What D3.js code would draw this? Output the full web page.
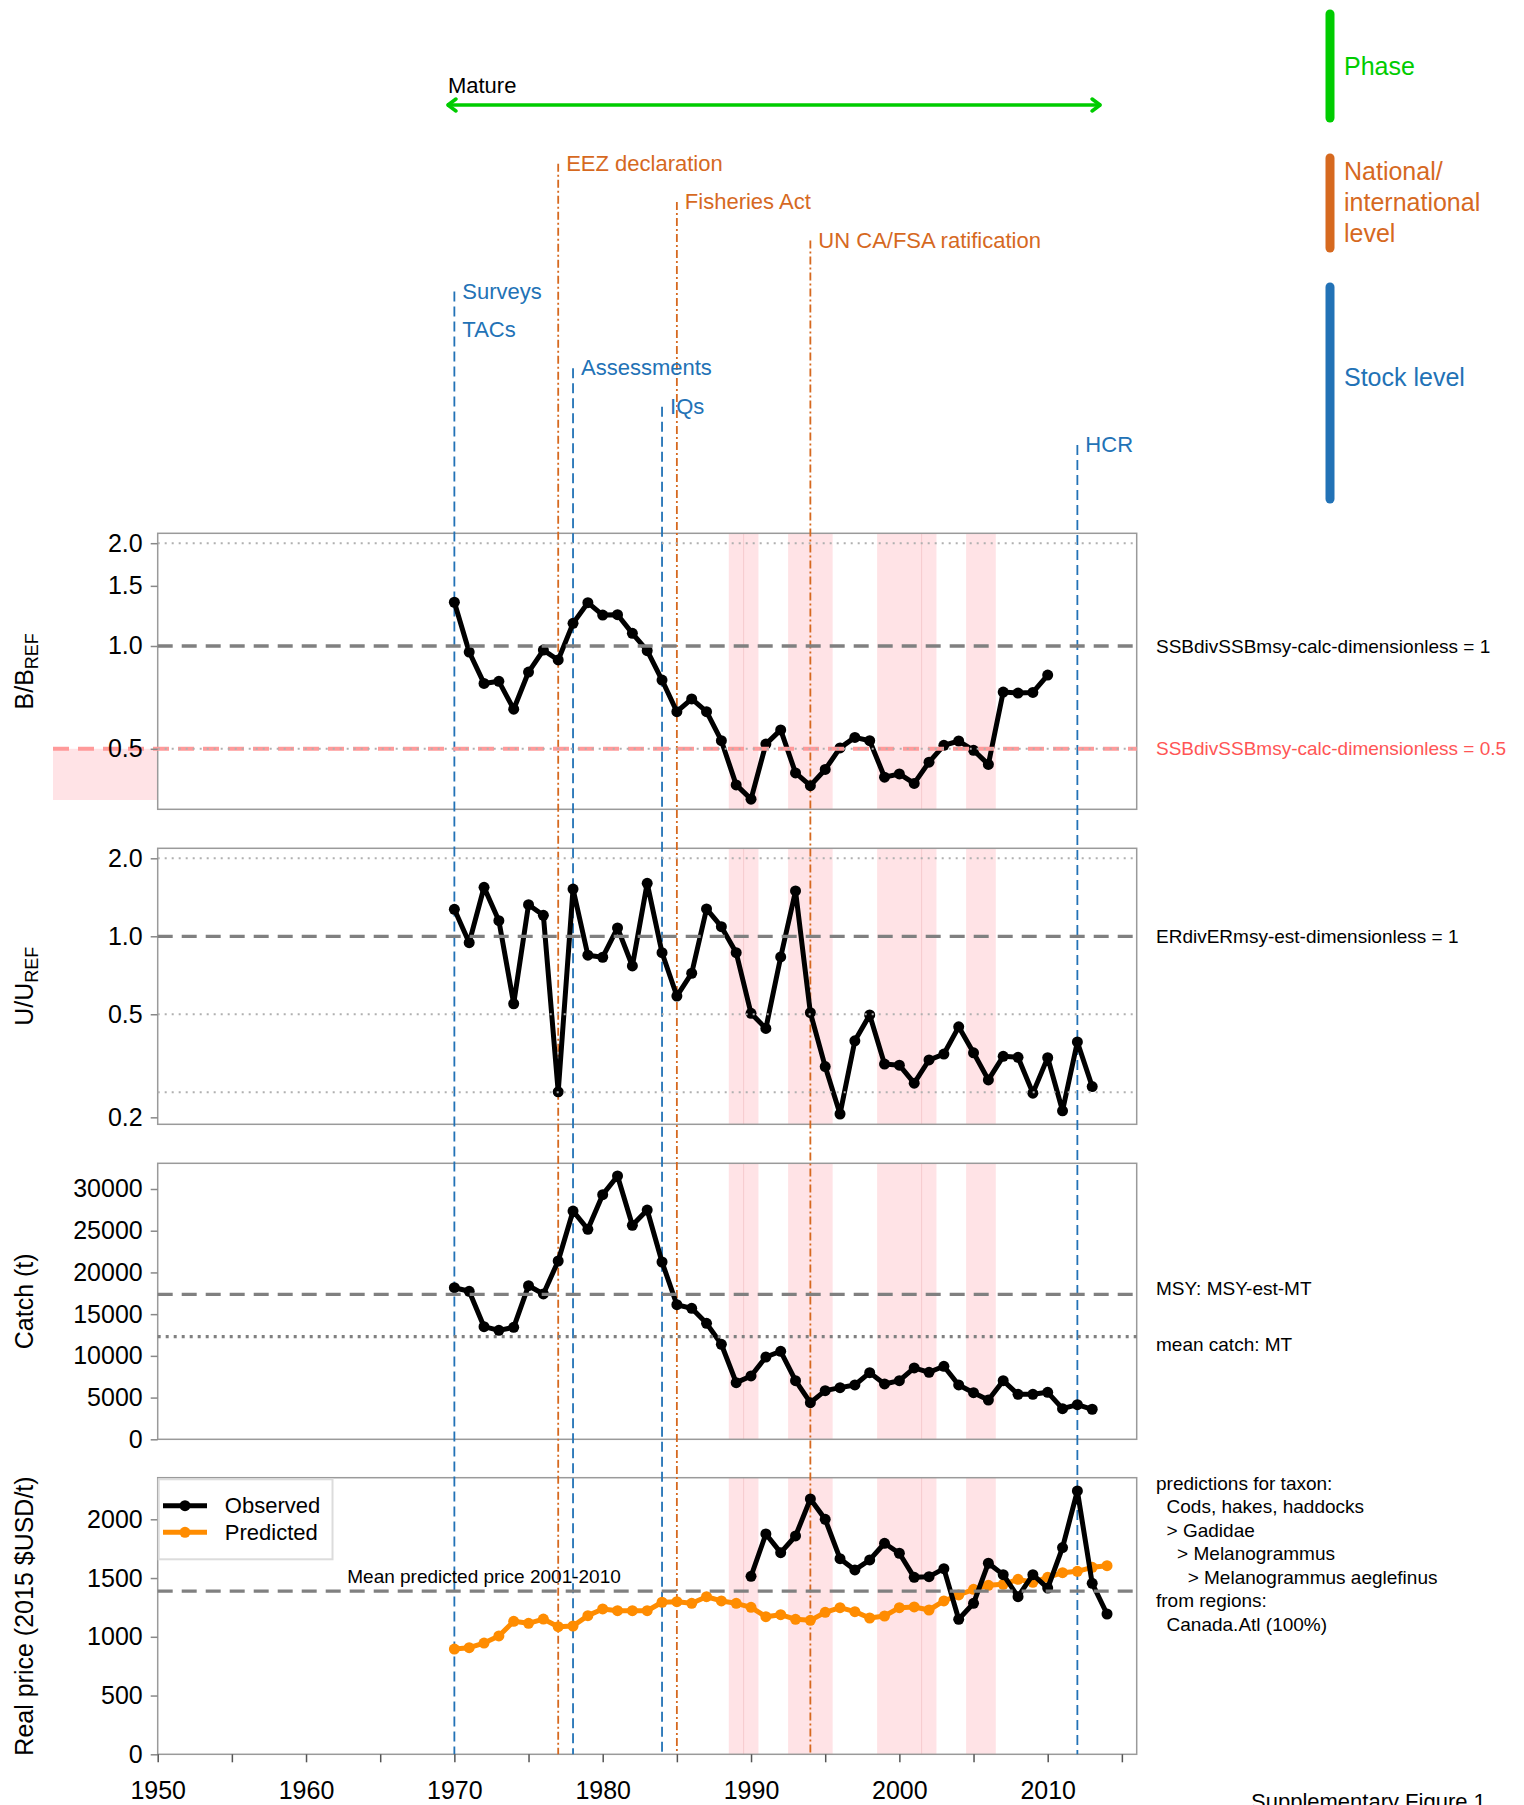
<!DOCTYPE html>
<html><head><meta charset="utf-8">
<script src="https://cdn.jsdelivr.net/npm/d3@7"></script>
<style>
body{margin:0;background:#fff}
svg{display:block;font-family:"Liberation Sans",Arial,Helvetica,sans-serif}
</style>
</head><body>
<svg id="c" width="1524" height="1805"></svg>
<script>
// ---------------- DATA ----------------
const bYears = d3.range(1970, 2011);
const bRatio = [1.343,0.960,0.777,0.788,0.653,0.839,0.973,0.910,1.165,1.339,1.232,1.235,1.089,0.969,0.795,0.642,0.700,0.642,0.528,0.392,0.356,
                0.516,0.568,0.425,0.390,0.435,0.503,0.540,0.528,0.413,0.422,0.396,0.457,0.512,0.527,0.495,0.450,0.733,0.728,0.731,0.822];
const uYears = d3.range(1970, 2014);
const uRatio = [1.271,0.945,1.546,1.149,0.549,1.324,1.205,0.251,1.522,0.845,0.830,1.077,0.768,1.602,0.864,0.588,0.720,1.275,1.089,0.864,0.504,
                0.441,0.832,1.496,0.507,0.314,0.206,0.395,0.497,0.321,0.318,0.271,0.333,0.351,0.447,0.355,0.279,0.344,0.341,0.248,0.340,0.212,0.391,0.263];
const catchYears = d3.range(1970, 2014);
const catchT = [18170,17740,13500,13060,13420,18410,17420,21370,27360,25170,29320,31560,25650,27480,21250,16130,15700,13900,11390,6790,7590,
                9860,10550,7030,4390,5830,6190,6510,7990,6630,7030,8550,8030,8750,6510,5590,4710,7030,5390,5390,5630,3670,4150,3600];
const predYears = d3.range(1970, 2015);
const pricePredicted = [896,907,947,1007,1132,1115,1151,1086,1092,1180,1237,1222,1222,1222,1294,1299,1285,1341,1305,1285,1251,
                        1171,1188,1149,1140,1208,1248,1214,1160,1177,1248,1254,1228,1305,1356,1404,1438,1447,1489,1464,1506,1546,1557,1591,1605];
const obsYears = d3.range(1990, 2015);
const priceObserved = [1515,1875,1716,1858,2173,2000,1665,1569,1654,1796,1711,1506,1512,1580,1149,1285,1626,1529,1341,1529,1415,1759,2241,1455,1194];

const shadedSpans = [[1988.5,1989.5],[1989.5,1990.5],[1992.5,1995.5],[1998.5,2001.5],[2001.5,2002.5],[2004.5,2006.5]];
const stockEvents = [{year:1970,label:"Surveys"},{year:1970,label:"TACs"},{year:1978,label:"Assessments"},{year:1984,label:"IQs"},{year:2012,label:"HCR"}];
const nationalEvents = [{year:1977,label:"EEZ declaration"},{year:1985,label:"Fisheries Act"},{year:1994,label:"UN CA/FSA ratification"}];
const phase = {label:"Mature", start:1969.5, end:2013.6};

const bTicks = [0.5,1.0,1.5,2.0];
const uTicks = [0.2,0.5,1.0,2.0];
const catchTicks = [0,5000,10000,15000,20000,25000,30000];
const priceTicks = [0,500,1000,1500,2000];
const yearTicks = d3.range(1950, 2016, 5);
const yearLabels = [1950,1960,1970,1980,1990,2000,2010];

const bRefTarget = 1, bRefLimit = 0.5;
const uRef = 1;
const msyCatch = 17380, meanCatch = 12300;
const meanPredPrice = d3.mean(pricePredicted.filter((v,i)=>predYears[i]>=2001 && predYears[i]<=2010));

const taxonLines = ["predictions for taxon:","  Cods, hakes, haddocks","  > Gadidae","    > Melanogrammus","      > Melanogrammus aeglefinus","from regions:","  Canada.Atl (100%)"];

// ---------------- LAYOUT ----------------
const svg = d3.select("#c");
const X0 = 157.7, X1 = 1136.7;
const x = d3.scaleLinear().domain([1950,2016]).range([X0,X1]);
const P = [{top:533.3,bot:809.3},{top:848.3,bot:1124.3},{top:1163.3,bot:1439.3},{top:1477.7,bot:1754.3}];
const yB = d3.scaleLog().domain([0.3325,2.138]).range([P[0].bot,P[0].top]);
const yU = d3.scaleLog().domain([0.188,2.186]).range([P[1].bot,P[1].top]);
const yC = d3.scaleLinear().domain([0,33080]).range([P[2].bot,P[2].top]);
const yP = d3.scaleLinear().domain([0,2354]).range([P[3].bot,P[3].top]);

const BLUE="#2272b6", ORANGE="#d6691f", GREEN="#00cc00", PINK="#ffe3e6";
const GRAYD="#808080", GRAYL="#b0b0b0";

// shading
P.forEach(p=>{
  const g = svg.append("g");
  g.selectAll("rect").data(shadedSpans).join("rect")
    .attr("x",d=>x(d[0])).attr("width",d=>x(d[1])-x(d[0]))
    .attr("y",p.top).attr("height",p.bot-p.top).attr("fill",PINK);
  const shared = shadedSpans.filter(a=>shadedSpans.some(b=>b[0]===a[1])).map(a=>a[1]);
  g.selectAll("line").data(shared).join("line")
    .attr("x1",d=>x(d)).attr("x2",d=>x(d)).attr("y1",p.top).attr("y2",p.bot)
    .attr("stroke","#f6c9cd").attr("stroke-width",1);
});

// pink swatch left of panel 1
svg.append("rect").attr("x",53).attr("width",X0-53)
  .attr("y",yB(bRefLimit)).attr("height",800-yB(bRefLimit)).attr("fill",PINK);

// boxes
P.forEach(p=>{
  svg.append("rect").attr("x",X0).attr("y",p.top).attr("width",X1-X0).attr("height",p.bot-p.top)
    .attr("fill","none").attr("stroke","#9a9a9a").attr("stroke-width",1.5);
});

// event lines
const rowGap = 38.4;
const natBase = 170.7, stockBase = 298.5;
const evFont = 22;
const stockFirstRow = {};
stockEvents.forEach((e,i)=>{ if(!(e.year in stockFirstRow)) stockFirstRow[e.year]=i; });
Object.keys(stockFirstRow).forEach(yr=>{
  const top = stockBase + stockFirstRow[yr]*rowGap - 7;
  svg.append("line").attr("x1",x(+yr)).attr("x2",x(+yr)).attr("y1",top).attr("y2",P[3].bot)
    .attr("stroke",BLUE).attr("stroke-width",1.8).attr("stroke-dasharray","10,5");
});
nationalEvents.forEach((e,i)=>{
  const top = natBase + i*rowGap - 7;
  svg.append("line").attr("x1",x(e.year)).attr("x2",x(e.year)).attr("y1",top).attr("y2",P[3].bot)
    .attr("stroke",ORANGE).attr("stroke-width",1.8).attr("stroke-dasharray","8,3,2,3");
});
svg.selectAll("text.stock").data(stockEvents).join("text").attr("class","stock")
  .attr("x",d=>x(d.year)+8).attr("y",(d,i)=>stockBase+i*rowGap)
  .attr("fill",BLUE).attr("font-size",evFont).text(d=>d.label);
svg.selectAll("text.nat").data(nationalEvents).join("text").attr("class","nat")
  .attr("x",d=>x(d.year)+8).attr("y",(d,i)=>natBase+i*rowGap)
  .attr("fill",ORANGE).attr("font-size",evFont).text(d=>d.label);

// phase arrow
const ay = 105;
const ax0 = x(phase.start), ax1 = x(phase.end);
svg.append("line").attr("x1",ax0).attr("x2",ax1).attr("y1",ay).attr("y2",ay)
  .attr("stroke",GREEN).attr("stroke-width",3.5);
svg.append("path").attr("d",`M${ax0+9},${ay-6}L${ax0+1},${ay}L${ax0+9},${ay+6}M${ax1-9},${ay-6}L${ax1-1},${ay}L${ax1-9},${ay+6}`)
  .attr("fill","none").attr("stroke",GREEN).attr("stroke-width",3.5).attr("stroke-linecap","round").attr("stroke-linejoin","round");
svg.append("text").attr("x",ax0+1).attr("y",93).attr("font-size",evFont).attr("fill","#000").text(phase.label);

// right legend
const legItems = [
  {c:GREEN, y0:14, y1:118, lines:["Phase"], ty:75},
  {c:ORANGE, y0:158, y1:248, lines:["National/","international","level"], ty:180},
  {c:BLUE, y0:287, y1:499, lines:["Stock level"], ty:386}
];
legItems.forEach(L=>{
  svg.append("line").attr("x1",1330).attr("x2",1330).attr("y1",L.y0).attr("y2",L.y1)
    .attr("stroke",L.c).attr("stroke-width",9).attr("stroke-linecap","round");
  L.lines.forEach((t,i)=>svg.append("text").attr("x",1344).attr("y",L.ty+i*31)
    .attr("font-size",25).attr("fill",L.c).text(t));
});

// helper for lines
function hline(y, xa, xb, stroke, w, dash){
  svg.append("line").attr("x1",xa).attr("x2",xb).attr("y1",y).attr("y2",y)
    .attr("stroke",stroke).attr("stroke-width",w).attr("stroke-dasharray",dash);
}
function series(xs, vs, yS, color, r, w){
  const g = svg.append("g");
  const pts = xs.map((d,i)=>[x(d), yS(vs[i])]);
  g.append("path").attr("d",d3.line()(pts)).attr("fill","none").attr("stroke",color)
    .attr("stroke-width",w).attr("stroke-linejoin","round");
  g.selectAll("circle").data(pts).join("circle").attr("cx",d=>d[0]).attr("cy",d=>d[1]).attr("r",r).attr("fill",color);
}

// data
series(bYears,bRatio,yB,"#000",5.5,5);
series(uYears,uRatio,yU,"#000",5.5,5);
series(catchYears,catchT,yC,"#000",5.5,5);
series(predYears,pricePredicted,yP,"#ff8c00",5.5,5);
series(obsYears,priceObserved,yP,"#000",5.5,5);

// reference lines
hline(yB(2.0),X0,X1,GRAYL,2,"2,5");
hline(yB(bRefTarget),X0,X1,GRAYD,3.3,"15,9");
hline(yB(bRefLimit),53,X1,"#ff9a9a",4,"16,9");
hline(yB(bRefLimit),X0,X1,GRAYL,2,"2,5");
hline(yU(2.0),X0,X1,GRAYL,2,"2,5");
hline(yU(0.5),X0,X1,GRAYL,2,"2,5");
hline(yU(0.25),X0,X1,GRAYL,2,"2,5");
hline(yU(uRef),X0,X1,GRAYD,3.3,"15,9");
hline(yC(msyCatch),X0,X1,GRAYD,3.3,"15,9");
hline(yC(meanCatch),X0,X1,GRAYD,3.3,"3,5");
hline(yP(meanPredPrice),X0,X1,GRAYD,3.3,"15,9");

// axes
function yAxis(scale, ticks, fmt){
  const g = svg.append("g").attr("transform",`translate(${X0},0)`)
    .call(d3.axisLeft(scale).tickValues(ticks).tickFormat(fmt).tickSize(7).tickPadding(8));
  g.select(".domain").remove();
  g.selectAll(".tick line").attr("stroke","#888").attr("stroke-width",1.5);
  g.selectAll(".tick text").attr("font-size",25).attr("fill","#000");
  g.attr("font-family",null);
}
yAxis(yB,bTicks,d3.format(".1f"));
yAxis(yU,uTicks,d3.format(".1f"));
yAxis(yC,catchTicks,d3.format("d"));
yAxis(yP,priceTicks,d3.format("d"));
const gx = svg.append("g").attr("transform",`translate(0,${P[3].bot})`)
  .call(d3.axisBottom(x).tickValues(yearTicks).tickFormat(d=>yearLabels.includes(d)?d:"").tickSize(8).tickPadding(19));
gx.select(".domain").remove();
gx.attr("font-family",null);
gx.selectAll(".tick line").attr("stroke","#555").attr("stroke-width",1.5);
gx.selectAll(".tick text").attr("font-size",25).attr("fill","#000");

// axis titles
function ytitle(cy, build){
  const t = svg.append("text").attr("transform",`translate(33,${cy}) rotate(-90)`)
    .attr("text-anchor","middle").attr("font-size",25).attr("fill","#000");
  build(t);
}
ytitle((P[0].top+P[0].bot)/2, t=>{t.append("tspan").text("B/B");t.append("tspan").attr("font-size",18).attr("dy",5).text("REF");});
ytitle((P[1].top+P[1].bot)/2, t=>{t.append("tspan").text("U/U");t.append("tspan").attr("font-size",18).attr("dy",5).text("REF");});
ytitle((P[2].top+P[2].bot)/2, t=>t.text("Catch (t)"));
ytitle((P[3].top+P[3].bot)/2, t=>t.text("Real price (2015 $USD/t)"));

// right annotations
function note(y, txt, color){
  svg.append("text").attr("x",1156).attr("y",y).attr("dy","0.35em").attr("font-size",19)
    .attr("fill",color||"#000").text(txt);
}
note(yB(bRefTarget),"SSBdivSSBmsy-calc-dimensionless = 1");
note(yB(bRefLimit),"SSBdivSSBmsy-calc-dimensionless = 0.5","#ff5555");
note(yU(uRef),"ERdivERmsy-est-dimensionless = 1");
note(yC(msyCatch)-6,"MSY: MSY-est-MT");
note(yC(meanCatch)+8,"mean catch: MT");
taxonLines.forEach((t,i)=>{
  svg.append("text").attr("x",1156).attr("y",1483+i*23.55).attr("dy","0.35em").attr("font-size",19)
    .attr("fill","#000").style("white-space","pre").attr("xml:space","preserve").text(t);
});
svg.append("text").attr("x",x(1972)).attr("y",yP(meanPredPrice)-8).attr("text-anchor","middle")
  .attr("font-size",19).attr("fill","#000").text("Mean predicted price 2001-2010");

// legend
const lg = svg.append("g");
lg.append("rect").attr("x",158.7).attr("y",1479.3).attr("width",173.8).attr("height",80)
  .attr("fill","#fff").attr("stroke","#dcdcdc").attr("stroke-width",2);
[{label:"Observed",c:"#000",y:1505.7},{label:"Predicted",c:"#ff8c00",y:1532.3}].forEach(L=>{
  lg.append("line").attr("x1",163).attr("x2",207).attr("y1",L.y).attr("y2",L.y).attr("stroke",L.c).attr("stroke-width",5);
  lg.append("circle").attr("cx",185).attr("cy",L.y).attr("r",5.5).attr("fill",L.c);
  lg.append("text").attr("x",224.8).attr("y",L.y).attr("dy","0.35em").attr("font-size",22).attr("fill","#000").text(L.label);
});

svg.append("text").attr("x",1251).attr("y",1809).attr("font-size",22).attr("fill","#000").text("Supplementary Figure 1");
</script>
</body></html>
